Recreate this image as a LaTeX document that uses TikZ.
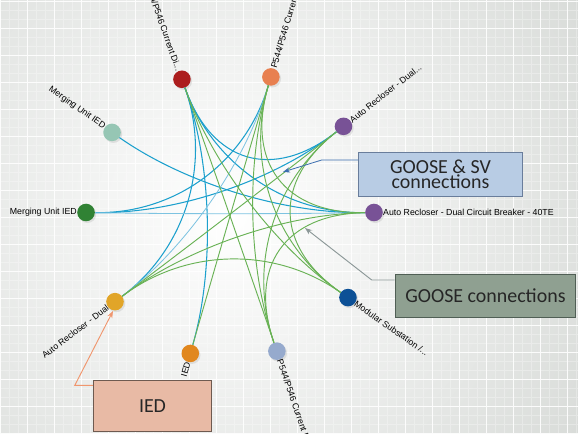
\documentclass[tikz,border=0pt]{standalone}
\usepackage{fontspec}
\setmainfont{Carlito}
\newfontfamily\lblfont{Liberation Sans}
\usetikzlibrary{calc,arrows.meta,shadows}

% paper and links
\definecolor{bgGray}{RGB}{216,219,216}
\definecolor{svBlue}{RGB}{28,160,205}
\definecolor{svLight}{RGB}{125,195,225}
\definecolor{gsGreen}{RGB}{105,178,85}
% devices
\definecolor{arPurple}{RGB}{120,82,150}
\definecolor{pcOrange}{RGB}{232,128,80}
\definecolor{pcRed}{RGB}{172,30,30}
\definecolor{muTeal}{RGB}{150,198,180}
\definecolor{muGreen}{RGB}{48,130,52}
\definecolor{arYellow}{RGB}{225,165,40}
\definecolor{iedOrange}{RGB}{225,135,30}
\definecolor{psBlue}{RGB}{150,170,205}
\definecolor{msBlue}{RGB}{12,80,150}
% callouts
\definecolor{boxBlue}{RGB}{184,204,228}
\definecolor{boxBlueEdge}{RGB}{105,125,155}
\definecolor{boxGreen}{RGB}{143,160,145}
\definecolor{boxGreenEdge}{RGB}{80,95,85}
\definecolor{boxSalmon}{RGB}{232,186,165}
\definecolor{boxSalmonEdge}{RGB}{110,90,80}
\definecolor{tipBlue}{RGB}{60,110,175}
\definecolor{tipGray}{RGB}{140,152,152}
\definecolor{tipOrange}{RGB}{240,150,110}

\tikzset{
  dev/.style={circle, minimum size=15pt, inner sep=0pt, label distance=6pt,
    drop shadow={opacity=0.18, shadow xshift=1.2pt, shadow yshift=-1.5pt}},
  lbl/.style={font=\lblfont\fontsize{7.5}{8}\selectfont, text=black, inner sep=0pt},
  sv/.style={svBlue, line width=0.9pt},
  svl/.style={svLight, line width=0.7pt},
  goose/.style={gsGreen, line width=0.8pt},
  bundle/.style={to path={.. controls ($(\tikztostart)!0.62!(O)$) and ($(\tikztotarget)!0.62!(O)$) .. (\tikztotarget)}},
  callout/.style={draw, line width=1pt, text=black!85, align=center,
    font=\fontsize{17}{13}\selectfont}
}

\begin{document}
\begin{tikzpicture}[x=0.3mm, y=0.3mm]
    \useasboundingbox (0,0) rectangle (578,433);
    \clip (0,0) rectangle (578,433);

    % Grey paper with a white glow and a faint grid
    \shade[inner color=white, outer color=bgGray] (-190,-202) rectangle (650,638);
    \draw[white, opacity=0.3, line width=0.4pt] (0,0) grid[step=9] (578,433);
    \draw[white, opacity=0.85, line width=0.7pt] (0,0) grid[step=27] (578,433);

    \begin{scope}[shift={(230,218)}]
    \coordinate (O) at (0,0);

    % Devices on the ring
    \node[dev, fill=arPurple, label={[lbl, anchor=west]1:Auto Recloser - Dual Circuit Breaker - 40TE}] (ar1) at (1:144) {};
    \node[dev, fill=arPurple, label={[lbl, rotate=38, anchor=west]38:Auto Recloser - Dual...}] (ar2) at (38:144) {};
    \node[dev, fill=pcOrange, label={[lbl, rotate=73.5, anchor=west]73.5:P544/P546 Current Di...}] (pc1) at (73.5:144) {};
    \node[dev, fill=pcRed, label={[lbl, rotate=-70.5, anchor=east]109.5:P544/P546 Current Di...}] (pc2) at (109.5:144) {};
    \node[dev, fill=muTeal, label={[lbl, rotate=-35, anchor=east]145:Merging Unit IED}] (mu1) at (145:144) {};
    \node[dev, fill=muGreen, label={[lbl, anchor=east]179:Merging Unit IED}] (mu2) at (179:144) {};
    \node[dev, fill=arYellow, label={[lbl, rotate=37, anchor=east]217:Auto Recloser - Dual}] (ar3) at (217:144) {};
    \node[dev, fill=iedOrange, label={[lbl, rotate=74, anchor=east]254:IED}] (ied) at (254:144) {};
    \node[dev, fill=psBlue, label={[lbl, rotate=-71, anchor=west]289:P544/P546 Current Di...}] (ps) at (289:144) {};
    \node[dev, fill=msBlue, label={[lbl, rotate=-35, anchor=west]325:Modular Substation /...}] (ms) at (325:144) {};

    % GOOSE and SV links
    \foreach \s/\t in {mu1/ar1, mu2/pc1, mu2/ar2, pc2/ar3, pc2/ar1, pc2/ar2, pc2/ied}
      \draw[sv] (\s) to[bundle] (\t);
    \foreach \s/\t in {mu2/ar1, ar3/pc1}
      \draw[svl] (\s) to[bundle] (\t);

    % GOOSE links
    \foreach \s/\t in {pc2/ps, pc2/ms, pc1/ps, pc1/ms, pc1/ar1, pc1/ied, ar2/ps, ar2/ms, ar2/ar3, ar1/ps, ar1/ar3, ar3/ms}
      \draw[goose] (\s) to[bundle] (\t);
    \end{scope}

    % Callouts
    \node[callout, fill=boxBlue, draw=boxBlueEdge, minimum width=140pt, minimum height=38pt] (svbox) at (440.5,258.5) {GOOSE \& SV\\connections};
    \node[callout, fill=boxGreen, draw=boxGreenEdge, minimum width=154pt, minimum height=37.4pt] (gsbox) at (485.5,137) {GOOSE connections};
    \node[callout, fill=boxSalmon, draw=boxSalmonEdge, minimum width=101pt, minimum height=44pt] (iedbox) at (152.5,27) {IED};

    \coordinate (svtip) at (283,261);
    \coordinate (gstip) at (305,205);
    \coordinate (iedtip) at (113,122);
    \draw[tipBlue, line width=0.7pt, -{Stealth[length=6pt, width=4.5pt]}] (svbox.170) -- ++(-36,0) -- (svtip);
    \draw[tipGray, line width=0.8pt, -{Stealth[length=6pt, width=4.5pt]}] (gsbox.170) -- ++(-23,0) -- (gstip);
    \draw[tipOrange, line width=0.8pt, -{Stealth[length=6pt, width=4.5pt]}] (iedbox.161) -- ++(-18,0) -- (iedtip);

\end{tikzpicture}
\end{document}
